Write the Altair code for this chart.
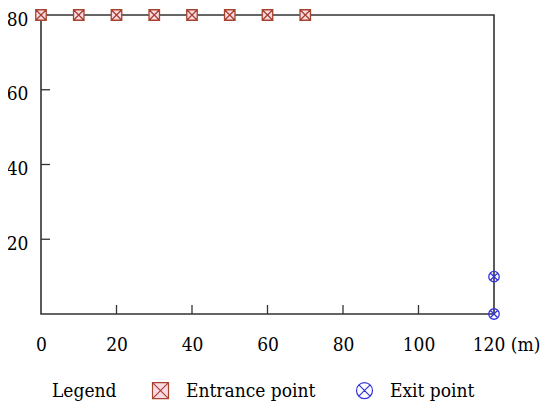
import altair as alt
import pandas as pd

# data
entrance_x = [0, 10, 20, 30, 40, 50, 60, 70]
entrance_y = [80, 80, 80, 80, 80, 80, 80, 80]
exit_x = [120, 120]
exit_y = [10, 0]
types = ["Entrance point", "Exit point"]
x_tick_values = [0, 20, 40, 60, 80, 100, 120]
y_tick_values = [20, 40, 60, 80]
x_inner_ticks = [20, 40, 60, 80, 100]
y_inner_ticks = [20, 40, 60]

rows = [{"x": a, "y": b, "type": types[0]} for a, b in zip(entrance_x, entrance_y)]
rows += [{"x": a, "y": b, "type": types[1]} for a, b in zip(exit_x, exit_y)]
df = pd.DataFrame(rows)

FONT = "DejaVu Serif Condensed"
FS = 19
W, H = 453, 299

square_x = "M-1,-1L1,-1L1,1L-1,1Z M-1,-1L1,1 M1,-1L-1,1"
circle_x = ("M-1,0A1,1,0,1,1,1,0A1,1,0,1,1,-1,0Z "
            "M-0.7,-0.7L0.7,0.7 M0.7,-0.7L-0.7,0.7")

xscale = alt.Scale(domain=[0, 120], nice=False)
yscale = alt.Scale(domain=[0, 80], nice=False)

xaxis = alt.Axis(
    values=x_tick_values, labelFont=FONT, labelFontSize=FS, labelColor="black",
    domain=False, ticks=False, grid=False, title=None, labelPadding=21,
    labelOverlap=False, labelFlush=False,
    labelExpr="datum.value == 120 ? '120 (m)' : datum.label",
    labelOffset=alt.expr("datum.value == 120 ? 12 : 0"),
)
yaxis = alt.Axis(
    values=y_tick_values, labelFont=FONT, labelFontSize=FS, labelColor="black",
    domain=False, ticks=False, grid=False, title=None, labelPadding=13,
    labelOverlap=False, labelFlush=False, labelOffset=4,
)

leg = alt.Legend(
    title="Legend", orient="none", legendX=11, legendY=366,
    direction="horizontal", titleOrient="left",
    titleFont=FONT, titleFontSize=FS, titleFontWeight="normal", titleColor="black",
    titleBaseline="middle", titlePadding=34,
    labelFont=FONT, labelFontSize=FS, labelColor="black",
    symbolSize=256, labelOffset=16, columnPadding=38, symbolStrokeWidth=1.2,
)

points = alt.Chart(df).mark_point(size=110, strokeWidth=1.3, opacity=1, clip=False).encode(
    x=alt.X("x:Q", scale=xscale, axis=xaxis),
    y=alt.Y("y:Q", scale=yscale, axis=yaxis),
    shape=alt.Shape("type:N", scale=alt.Scale(domain=types, range=[square_x, circle_x]), legend=leg),
    fill=alt.Fill("type:N", scale=alt.Scale(domain=types, range=["#fbd9e6", "transparent"]), legend=leg),
    stroke=alt.Stroke("type:N", scale=alt.Scale(domain=types, range=["#a8432e", "#3434dc"]), legend=leg),
)

xt = alt.Chart(pd.DataFrame({"x": x_inner_ticks})).mark_rule(color="#333", strokeWidth=1.3).encode(
    x=alt.X("x:Q", scale=xscale, axis=xaxis),
    y=alt.value(H), y2=alt.value(H - 9),
)
yt = alt.Chart(pd.DataFrame({"y": y_inner_ticks})).mark_rule(color="#333", strokeWidth=1.3).encode(
    y=alt.Y("y:Q", scale=yscale, axis=yaxis),
    x=alt.value(0), x2=alt.value(9),
)

chart = alt.layer(points, xt, yt).properties(
    width=W, height=H,
    background="white",
    autosize=alt.AutoSizeParams(type="none"),
    padding={"left": 33, "top": 7, "right": 48, "bottom": 93},
).configure_view(stroke="#333", strokeWidth=1.6).configure_text(font=FONT)

chart.save("out.html", embed_options={"renderer": "svg", "actions": False})
